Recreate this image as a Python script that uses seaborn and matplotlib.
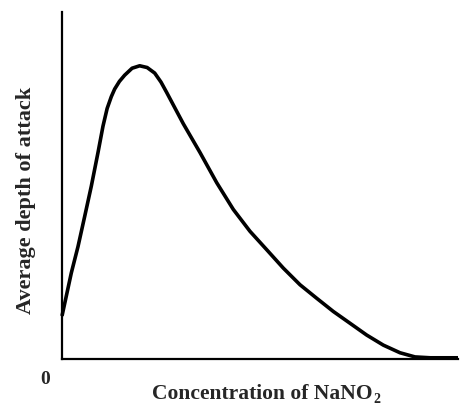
import matplotlib
matplotlib.use("Agg")
import matplotlib.pyplot as plt
import seaborn as sns
import pandas as pd

# concentration (arbitrary units) vs average depth of attack (arbitrary units)
concentration = [0.00, 0.235, 0.404, 0.573, 0.740, 0.909, 1.035, 1.14, 1.245, 1.33, 1.45,
                 1.583, 1.77, 1.962, 2.15, 2.341, 2.50, 2.644, 2.886, 3.063, 3.485, 3.907,
                 4.326, 4.747, 5.169, 5.588, 6.010, 6.432, 6.851, 7.273, 7.694, 8.114, 8.535,
                 8.914, 9.30, 10.0]
depth = [1.24, 2.48, 3.24, 4.11, 4.98, 5.95, 6.71, 7.22, 7.56, 7.78, 8.00,
         8.18, 8.38, 8.45, 8.40, 8.24, 7.98, 7.68, 7.16, 6.78, 5.95, 5.08,
         4.31, 3.68, 3.15, 2.62, 2.14, 1.75, 1.37, 1.03, 0.69, 0.40, 0.18,
         0.06, 0.035, 0.035]

df = pd.DataFrame({"conc": concentration, "depth": depth})

sns.set_style("white")
plt.rcParams["font.family"] = ["Liberation Serif", "DejaVu Serif"]

W, H = 462, 405
fig = plt.figure(figsize=(W / 100, H / 100), dpi=100)
ax = fig.add_axes([62 / W, (H - 359) / H, (458 - 62) / W, (359 - 12) / H])

sns.lineplot(data=df, x="conc", y="depth", ax=ax, color="black", linewidth=2.6, sort=False)
for l in ax.lines:
    l.set_clip_on(False)
    l.set_solid_joinstyle("round")
    l.set_solid_capstyle("butt")

ax.set_xlim(0, 10)
ax.set_ylim(0, 10)
ax.set_xticks([])
ax.set_yticks([])
ax.set_xlabel("")
ax.set_ylabel("")
sns.despine(ax=ax)
for s in ["left", "bottom"]:
    ax.spines[s].set_linewidth(1.6)
    ax.spines[s].set_color("black")

fig.text(26 / W, 1 - 200 / H, "Average depth of attack", rotation=90, ha="center", va="center",
         fontsize=16, fontweight="bold")
main = fig.text(262 / W, 1 - 399 / H, "Concentration of NaNO", ha="center", va="baseline",
                fontsize=15.5, fontweight="bold")
fig.canvas.draw()
bb = main.get_window_extent()
fig.text((bb.x1 + 1) / W, 1 - 403 / H, "2", ha="left", va="baseline", fontsize=10, fontweight="bold")
fig.text(45 / W, 1 - 384 / H, "0", ha="center", va="baseline", fontsize=14, fontweight="bold")

fig.savefig("out.png", dpi=100)
